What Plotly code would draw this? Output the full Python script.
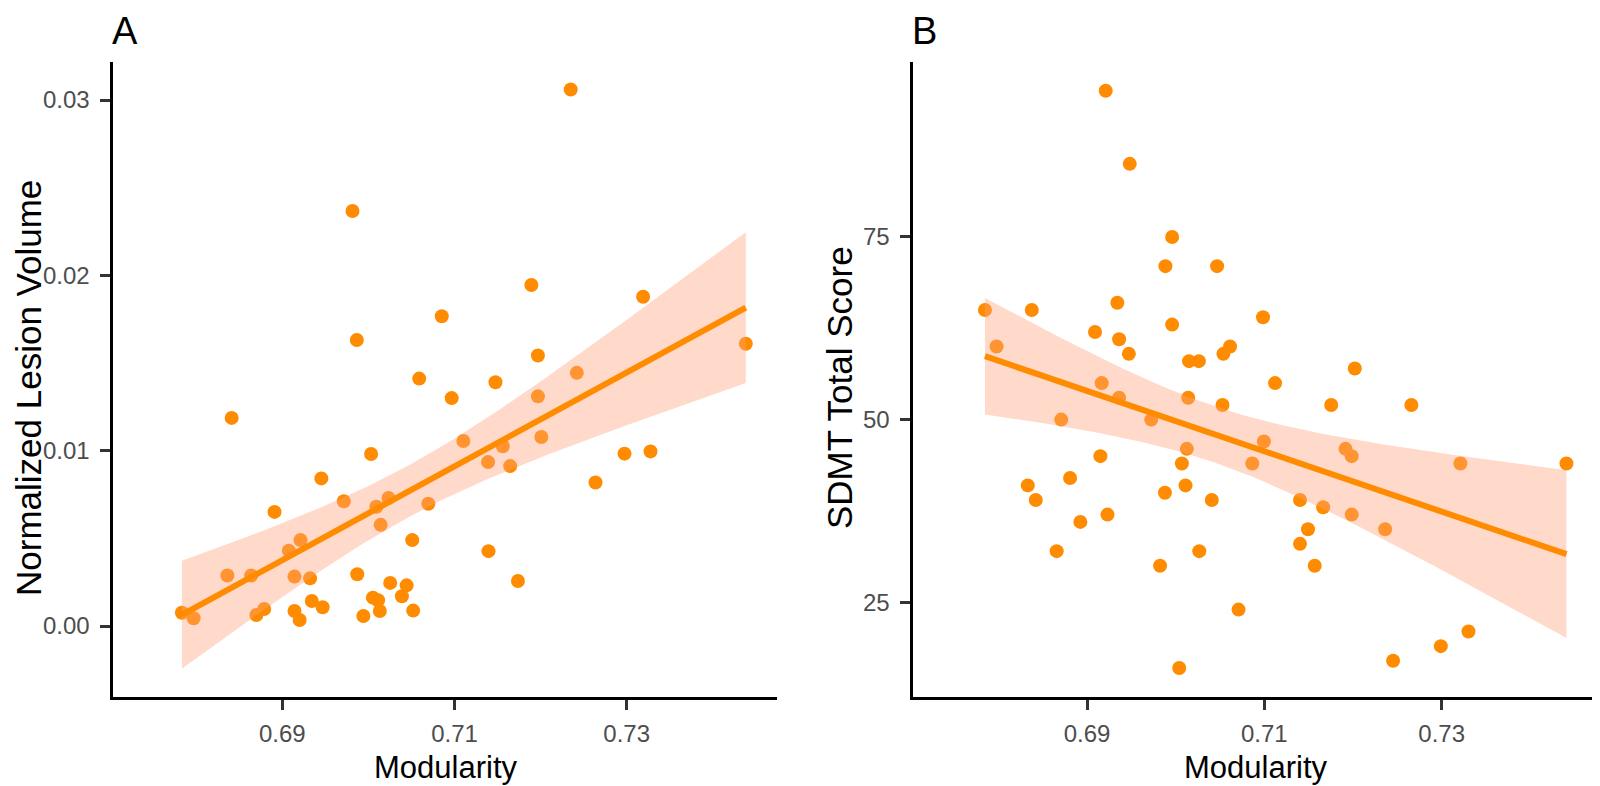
import numpy as np
import plotly.graph_objects as go

# ---------------- data ----------------
mod_a = [0.7235, 0.69815, 0.71893, 0.73191, 0.70852, 0.69865, 0.74384, 0.71969,
         0.72421, 0.7059, 0.71476, 0.70967, 0.71969,
         0.68411, 0.71103, 0.72009, 0.70031, 0.72975, 0.73277, 0.71561, 0.7139,
         0.71647, 0.69453, 0.72638, 0.69714, 0.70233, 0.70092, 0.70696, 0.68909,
         0.70142, 0.70509, 0.69211, 0.69075, 0.71395, 0.68361, 0.68638, 0.69141,
         0.69322, 0.6987, 0.71737, 0.70253, 0.70444, 0.70052, 0.70112, 0.70389,
         0.69342, 0.69468, 0.68789, 0.68698, 0.69141, 0.69201, 0.70132, 0.69941,
         0.7052, 0.67833, 0.67969]
lesion_a = [0.0306, 0.02367, 0.01945, 0.01878, 0.01767, 0.01631, 0.0161, 0.01543,
            0.01444, 0.01411, 0.0139, 0.0130, 0.0131,
            0.01187, 0.01055, 0.01078, 0.00981, 0.00983, 0.00996, 0.01025, 0.00935,
            0.00912, 0.00842, 0.00819, 0.00712, 0.0073, 0.0068, 0.00697, 0.00651,
            0.00577, 0.0049, 0.0049, 0.00429, 0.00427, 0.00288, 0.00288, 0.00282,
            0.00272, 0.00295, 0.00257, 0.00246, 0.00232, 0.00162, 0.00147, 0.0017,
            0.00143, 0.00107, 0.00097, 0.00063, 0.00086, 0.00034, 0.00086, 0.00057,
            0.00088, 0.00076, 0.00044]

mod_b = [0.69211, 0.69482, 0.6996, 0.69884, 0.70467, 0.67849, 0.68377, 0.69342,
         0.70985, 0.6996, 0.6909, 0.69362, 0.6798, 0.70613, 0.70538, 0.69472,
         0.70151, 0.70261, 0.7202, 0.71121, 0.69166, 0.69362, 0.70141, 0.70528,
         0.71754, 0.72658, 0.68709, 0.69724, 0.70995, 0.70126, 0.71915, 0.71985,
         0.69151, 0.7007, 0.70864, 0.73211, 0.74407, 0.68809, 0.68332, 0.70111,
         0.69879, 0.68422, 0.70407, 0.71402, 0.71663, 0.69231, 0.71985, 0.68925,
         0.71492, 0.72362, 0.71402, 0.68658, 0.70266, 0.69824, 0.71568, 0.70709,
         0.73302, 0.7299, 0.72452, 0.7004]
sdmt_b = [95, 85, 75, 71, 71, 65, 65, 66, 64, 63, 62, 61, 60, 60, 59, 59,
          58, 58, 57, 55, 55, 53, 53, 52, 52, 52, 50, 50, 47, 46, 46, 45,
          45, 44, 44, 44, 44, 42, 41, 41, 40, 39, 39, 39, 38, 37, 37, 36,
          35, 35, 33, 32, 32, 30, 30, 24, 21, 19, 17, 16]

x_ticks = [0.69, 0.71, 0.73]
x_tick_text = ["0.69", "0.71", "0.73"]
ya_ticks = [0.00, 0.01, 0.02, 0.03]
ya_tick_text = ["0.00", "0.01", "0.02", "0.03"]
yb_ticks = [25, 50, 75]
yb_tick_text = ["25", "50", "75"]

x_title = "Modularity"
ya_title = "Normalized Lesion Volume"
yb_title = "SDMT Total Score"

ORANGE = "#FF8C00"
BAND = "rgba(255,160,122,0.4)"
T975 = 2.004  # t quantile for 95% CI


def lm_band(x, y, npts=80):
    x = np.asarray(x, float)
    y = np.asarray(y, float)
    n = len(x)
    b1, b0 = np.polyfit(x, y, 1)
    resid = y - (b0 + b1 * x)
    s = np.sqrt(np.sum(resid ** 2) / (n - 2))
    xbar = x.mean()
    sxx = np.sum((x - xbar) ** 2)
    xs = np.linspace(x.min(), x.max(), npts)
    fit = b0 + b1 * xs
    se = s * np.sqrt(1.0 / n + (xs - xbar) ** 2 / sxx)
    return xs, fit, fit - T975 * se, fit + T975 * se


fig = go.Figure()


def add_panel(x, y, xa, ya):
    fig.add_trace(go.Scatter(x=x, y=y, mode="markers", xaxis=xa, yaxis=ya,
                             marker=dict(size=14, color=ORANGE, line=dict(width=0)),
                             showlegend=False, hoverinfo="x+y"))
    xs, fit, lo, hi = lm_band(x, y)
    fig.add_trace(go.Scatter(x=np.concatenate([xs, xs[::-1]]),
                             y=np.concatenate([hi, lo[::-1]]),
                             mode="lines", fill="toself", fillcolor=BAND,
                             line=dict(width=0), xaxis=xa, yaxis=ya,
                             showlegend=False, hoverinfo="skip"))
    fig.add_trace(go.Scatter(x=xs, y=fit, mode="lines", xaxis=xa, yaxis=ya,
                             line=dict(color=ORANGE, width=6),
                             showlegend=False, hoverinfo="skip"))


add_panel(mod_a, lesion_a, "x", "y")
add_panel(mod_b, sdmt_b, "x2", "y2")

# The page body has an 8px default margin: the figure is drawn 8px in from
# the top-left corner, so work in screen pixels and shift by OFF.
OFF = 8
SW, SH = 1600, 786
W, H = SW - OFF, SH - OFF


def px(v):
    return (v - OFF) / W


def py(v):
    return 1 - (v - OFF) / H


FONT = "Liberation Sans, Arial, Helvetica, sans-serif"
TICKFONT = dict(family=FONT, size=24, color="#4D4D4D")
XTITLEFONT = dict(family=FONT, size=31, color="black")
YTITLEFONT = dict(family=FONT, size=35, color="black")
TAGFONT = dict(family=FONT, size=38, color="black")

common = dict(showline=True, linecolor="black", linewidth=2.7, mirror=False,
              showgrid=False, zeroline=False, ticks="outside", ticklen=10,
              tickwidth=2.7, tickcolor="#333333", tickfont=TICKFONT,
              automargin=False)

TOP, BOT = 62.3, 696.7
ydom = [py(BOT), py(TOP)]
xdom_a = [px(113.3), px(776.7)]
xdom_b = [px(913.3), px(1596.7)]


def ann(text, x, y, font, **kw):
    d = dict(text=text, x=x, y=y, xref="paper", yref="paper", showarrow=False,
             font=font)
    d.update(kw)
    return d


fig.update_layout(
    width=W, height=H,
    margin=dict(l=0, r=0, t=0, b=0),
    paper_bgcolor="white", plot_bgcolor="white",
    font=dict(family=FONT),
    xaxis=dict(domain=xdom_a, range=[0.67036, 0.74743],
               tickvals=x_ticks, ticktext=x_tick_text, anchor="y",
               ticklabelstandoff=4, **common),
    yaxis=dict(domain=ydom, range=[-0.00403, 0.03215], anchor="x",
               tickvals=ya_ticks, ticktext=ya_tick_text, ticklabelstandoff=6,
               **common),
    xaxis2=dict(domain=xdom_b, range=[0.67041, 0.74748],
                tickvals=x_ticks, ticktext=x_tick_text, anchor="y2",
                ticklabelstandoff=4, **common),
    yaxis2=dict(domain=ydom, range=[12.08, 98.9], anchor="x2",
                tickvals=yb_ticks, ticktext=yb_tick_text, ticklabelstandoff=6,
                **common),
    annotations=[
        ann("A", px(110), 1.0, TAGFONT, xanchor="left", yanchor="top"),
        ann("B", px(910), 1.0, TAGFONT, xanchor="left", yanchor="top"),
        ann(x_title, sum(xdom_a) / 2, py(767), XTITLEFONT,
            xanchor="center", yanchor="middle"),
        ann(x_title, sum(xdom_b) / 2, py(767), XTITLEFONT,
            xanchor="center", yanchor="middle"),
        ann(ya_title, px(29), py(388), YTITLEFONT,
            xanchor="center", yanchor="middle", textangle=-90),
        ann(yb_title, px(840), py(388), YTITLEFONT,
            xanchor="center", yanchor="middle", textangle=-90),
    ],
)

fig.write_html("out.html")
